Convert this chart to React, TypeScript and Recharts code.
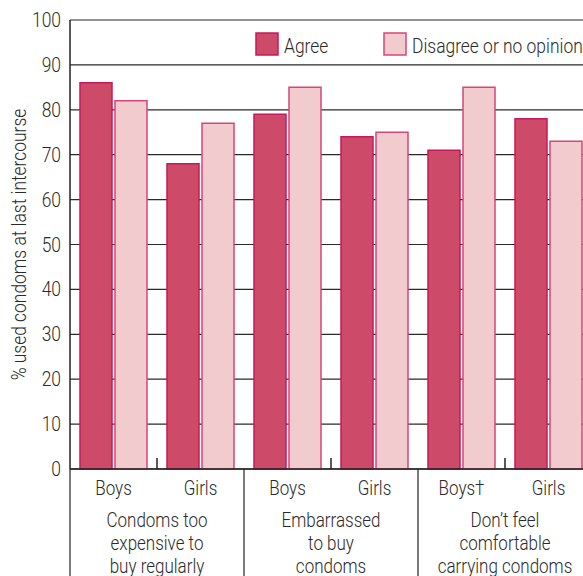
import React from "react";
import { BarChart, Bar, XAxis, YAxis, CartesianGrid, Legend } from "recharts";

const categories = ["Boys", "Girls", "Boys", "Girls", "Boys†", "Girls"];
const groupLabels = [
  ["Condoms too", "expensive to", "buy regularly"],
  ["Embarrassed", "to buy", "condoms"],
  ["Don’t feel", "comfortable", "carrying condoms"],
];
const seriesNames = ["Agree", "Disagree or no opinion"];
const agree = [86, 68, 79, 74, 71, 78];
const disagree = [82, 77, 85, 75, 85, 73];
const yTicks = [0, 10, 20, 30, 40, 50, 60, 70, 80, 90, 100];
const yTitle = "% used condoms at last intercourse";

const data = categories.map((c, i) => ({
  key: i,
  label: c,
  agree: agree[i],
  disagree: disagree[i],
}));

const FONT = "Roboto, 'Liberation Sans', Arial, sans-serif";
const WEIGHT = 300;
const SQUEEZE = 0.85;
const TEXT = "#2a2a2a";
const AGREE_FILL = "#cd4b68";
const AGREE_STROKE = "#c8185a";
const DIS_FILL = "#f1cbce";
const DIS_STROKE = "#d8457a";

const CHART_W = 600;
const CHART_H = 600;
const MARGIN = { top: 20, right: 8, left: 0, bottom: 0 };
const Y_W = 70;
const BAND = (CHART_W - MARGIN.right - MARGIN.left - Y_W) / categories.length;

const NText = ({ x, y, anchor = "middle", size = 19, rotate = 0, children }: any) => (
  <text
    transform={`translate(${x} ${y}) rotate(${rotate}) scale(${SQUEEZE} 1)`}
    textAnchor={anchor}
    fontSize={size}
    fontWeight={WEIGHT}
    fill={TEXT}
    fontFamily={FONT}
  >
    {children}
  </text>
);

const XTick = (props: any) => {
  const { x, y, payload, index } = props;
  const i = typeof index === "number" ? index : payload.index;
  const els: React.ReactNode[] = [];
  els.push(
    <NText key="t" x={x} y={y + 26} size={20}>
      {categories[i]}
    </NText>
  );
  if (i % 2 === 0) {
    const gx = x + BAND / 2;
    els.push(<line key="m" x1={gx} x2={gx} y1={y} y2={y - 11} stroke="#222" strokeWidth={1.5} />);
    els.push(<line key="s" x1={x - BAND / 2} x2={x - BAND / 2} y1={y} y2={y + 120} stroke="#222" strokeWidth={1.2} />);
    groupLabels[i / 2].forEach((ln, k) => {
      els.push(
        <NText key={"g" + k} x={gx} y={y + 58 + k * 23} size={20}>
          {ln}
        </NText>
      );
    });
  } else if (i === categories.length - 1) {
    els.push(<line key="e" x1={x + BAND / 2} x2={x + BAND / 2} y1={y} y2={y + 120} stroke="#222" strokeWidth={1.2} />);
  }
  return <g>{els}</g>;
};

const YTick = (props: any) => {
  const { x, y, payload } = props;
  return (
    <NText x={x} y={y + 7} anchor="end" size={20.5}>
      {payload.value}
    </NText>
  );
};

const LegendContent = () => {
  const items = [
    { name: seriesNames[0], fill: AGREE_FILL, stroke: AGREE_STROKE, x: 0 },
    { name: seriesNames[1], fill: DIS_FILL, stroke: DIS_STROKE, x: 128 },
  ];
  return (
    <svg width={340} height={26} style={{ display: "block", overflow: "visible" }}>
      {items.map((it) => (
        <g key={it.name}>
          <rect x={it.x + 1} y={1} width={22} height={22} fill={it.fill} stroke={it.stroke} strokeWidth={1.5} />
          <NText x={it.x + 29} y={21} anchor="start" size={20.5}>
            {it.name}
          </NText>
        </g>
      ))}
    </svg>
  );
};

const YLabel = () => {
  const cy = 20 + (469 - 20) / 2;
  return (
    <NText x={26} y={cy} rotate={-90} size={20.5}>
      {yTitle}
    </NText>
  );
};

export default function App() {
  return (
    <div
      style={{
        position: "fixed",
        top: 0,
        left: 0,
        width: 583,
        height: 576,
        overflow: "hidden",
        background: "#fff",
      }}
    >
      <BarChart
        width={CHART_W}
        height={CHART_H}
        data={data}
        margin={MARGIN}
        barCategoryGap={10}
        barGap={3}
      >
        <CartesianGrid horizontal vertical={false} stroke="#2a2a2a" strokeWidth={1.2} />
        <XAxis
          dataKey="key"
          height={131}
          tickLine={false}
          tickSize={0}
          tickMargin={0}
          axisLine={{ stroke: "#222", strokeWidth: 1.5 }}
          tick={<XTick />}
          interval={0}
        />
        <YAxis
          width={Y_W}
          domain={[0, 100]}
          ticks={yTicks}
          tickLine={false}
          tickSize={0}
          tickMargin={9}
          axisLine={{ stroke: "#222", strokeWidth: 1.5 }}
          tick={<YTick />}
          interval={0}
          label={<YLabel />}
        />
        <Legend
          layout="vertical"
          align="center"
          verticalAlign="middle"
          wrapperStyle={{ position: "absolute", top: 32, left: 255, width: "auto" }}
          content={<LegendContent />}
        />
        <Bar dataKey="agree" name={seriesNames[0]} fill={AGREE_FILL} stroke={AGREE_STROKE} strokeWidth={1.5} isAnimationActive={false} />
        <Bar dataKey="disagree" name={seriesNames[1]} fill={DIS_FILL} stroke={DIS_STROKE} strokeWidth={1.5} isAnimationActive={false} />
      </BarChart>
    </div>
  );
}
